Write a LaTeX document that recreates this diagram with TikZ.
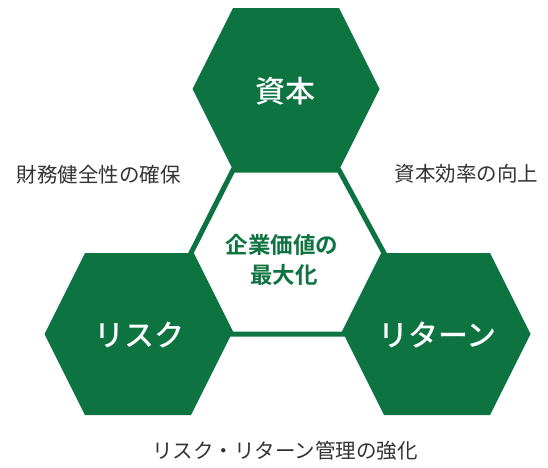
\documentclass[tikz,border=0pt]{standalone}
\usepackage{fontspec}
\setmainfont{Noto Sans CJK JP}[BoldFont={Noto Sans CJK JP Bold}]
\newfontfamily\jpmed{Noto Sans CJK JP}[UprightFont={* Medium}]
\definecolor{hexgreen}{HTML}{0D7340}
\definecolor{labelgray}{HTML}{333333}
\tikzset{
  hexfill/.style={fill=hexgreen},
  coreline/.style={draw=hexgreen, line width=5pt, fill=white, line join=miter},
  hexlabel/.style={text=white, font=\jpmed\fontsize{30}{34}\selectfont, inner sep=0pt},
  corelabel/.style={text=hexgreen, font=\bfseries\fontsize{22.5}{30}\selectfont, inner sep=0pt, align=center},
  sidelabel/.style={text=labelgray, font=\fontsize{20.5}{24}\selectfont, inner sep=0pt},
}
\newcommand{\hexat}[1]{%
  \fill[hexfill] ([shift={(-93.5,0)}]#1) -- ([shift={(-53,-81)}]#1) -- ([shift={(53,-81)}]#1)
    -- ([shift={(93.5,0)}]#1) -- ([shift={(53,81)}]#1) -- ([shift={(-53,81)}]#1) -- cycle;}
\begin{document}
\begin{tikzpicture}[x=1pt,y=-1pt]
\useasboundingbox (0,0) rectangle (548,467);
% hexagon centres
\coordinate (top) at (286,89);
\coordinate (left) at (138,334);
\coordinate (right) at (437,334);
% central hexagon vertices (shared with outer hexagons)
\coordinate (c1) at ([shift={(-53,81)}]top);
\coordinate (c2) at ([shift={(53,81)}]top);
\coordinate (c3) at ([shift={(-53,-81)}]right);
\coordinate (c4) at ([shift={(-93.5,0)}]right);
\coordinate (c5) at ([shift={(93.5,0)}]left);
\coordinate (c6) at ([shift={(53,-81)}]left);
\path[coreline] (c1) -- (c2) -- (c3) -- (c4) -- (c5) -- (c6) -- cycle;
\hexat{top}
\hexat{left}
\hexat{right}
\node[hexlabel] (capital) at (285,91) {資本};
\node[hexlabel] (risk) at (139.5,335) {リスク};
\node[hexlabel] (return) at (437.5,335) {リターン};
\node[corelabel] (core1) at (282,245) {企業価値の};
\node[corelabel] (core2) at (284,275) {最大化};
\node[sidelabel] (fin) at (98.5,175) {財務健全性の確保};
\node[sidelabel] (eff) at (466.5,174) {資本効率の向上};
\node[sidelabel] (rr) at (285,451) {リスク・リターン管理の強化};
\end{tikzpicture}
\end{document}
